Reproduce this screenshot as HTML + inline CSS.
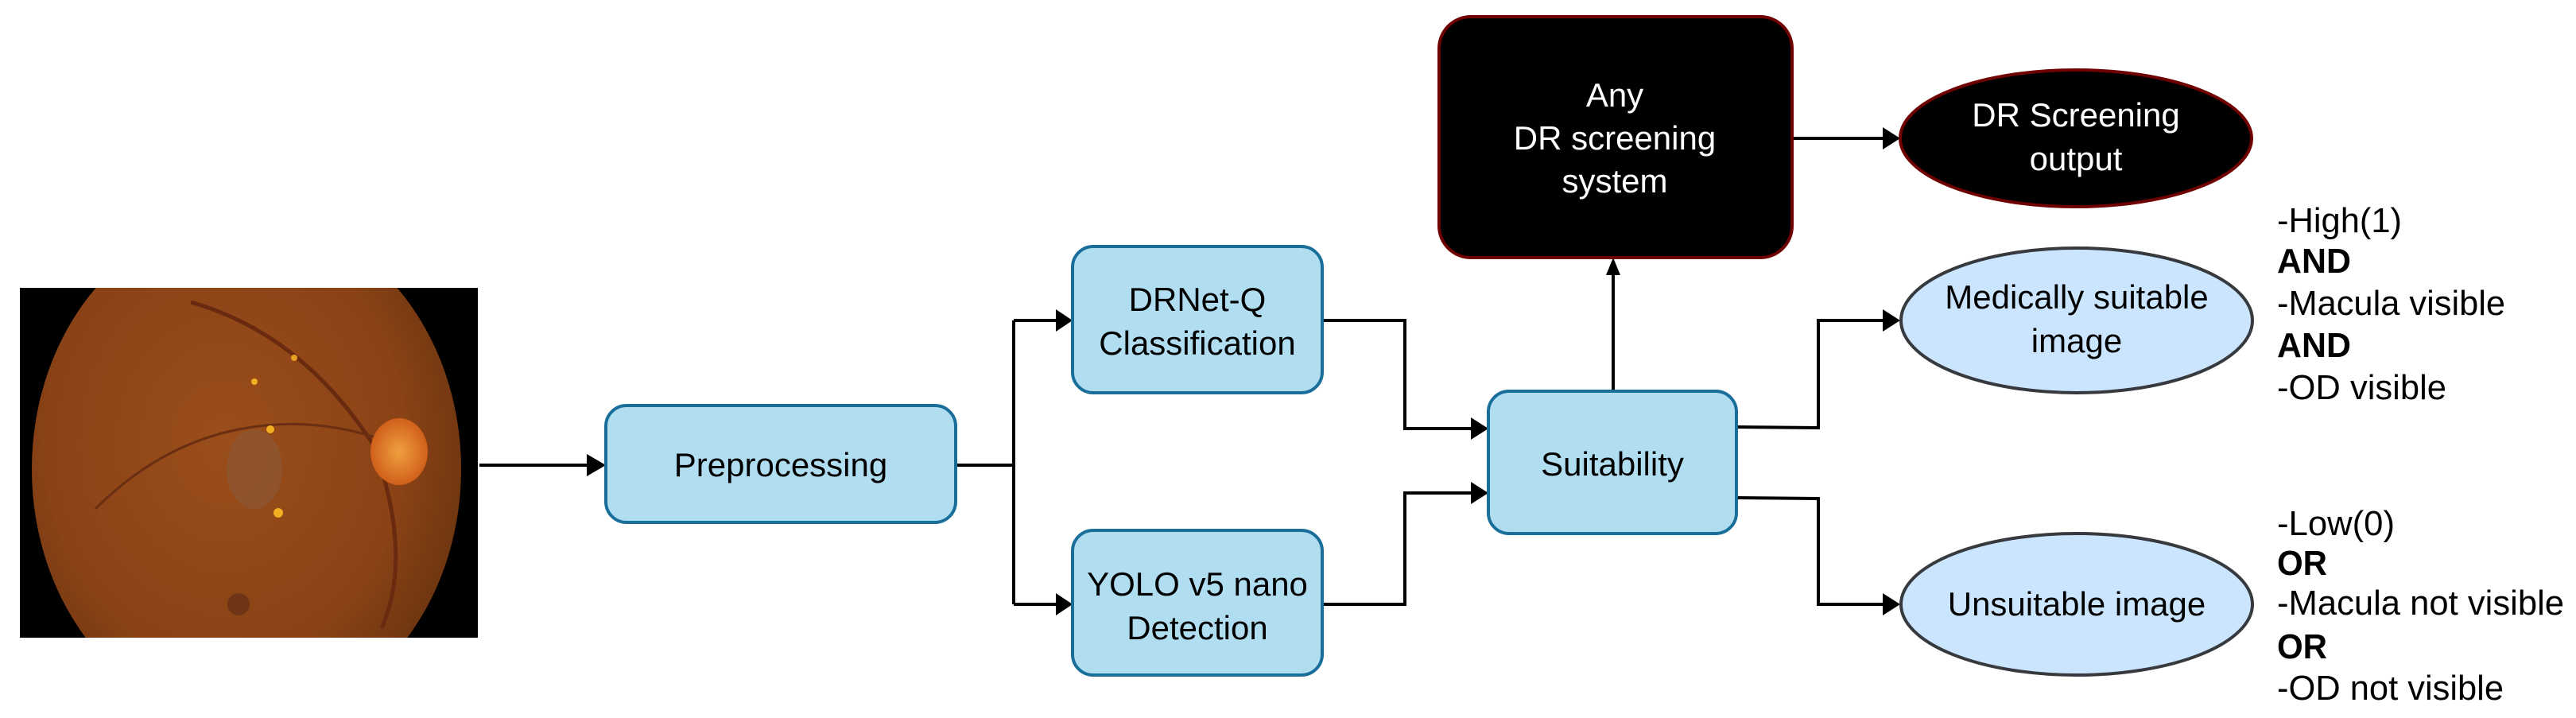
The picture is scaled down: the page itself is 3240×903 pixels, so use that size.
<!DOCTYPE html>
<html><head><meta charset="utf-8"><style>
html,body{margin:0;padding:0;background:#fff;}
svg{display:block;}
text{font-family:"Liberation Sans",Arial,sans-serif;}
</style></head><body>
<svg width="3240" height="903" viewBox="0 0 3240 903" xmlns="http://www.w3.org/2000/svg">
<defs>
<radialGradient id="fg" cx="45%" cy="45%" r="60%">
<stop offset="0" stop-color="#9a4e1a"/><stop offset="0.7" stop-color="#8a4216"/><stop offset="1" stop-color="#6a3410"/>
</radialGradient>
<radialGradient id="od" cx="50%" cy="50%" r="50%">
<stop offset="0" stop-color="#f0a040"/><stop offset="1" stop-color="#d0601a"/>
</radialGradient>
<clipPath id="cp"><rect x="25" y="362" width="576" height="440"/></clipPath>
</defs>
<rect x="25" y="362" width="576" height="440" fill="#000"/>
<g clip-path="url(#cp)">
<ellipse cx="310" cy="590" rx="270" ry="320" fill="url(#fg)"/>
<path d="M240 380 Q 380 420 470 560 Q 520 700 480 790" stroke="#6a2a10" stroke-width="5" fill="none"/>
<path d="M500 560 Q 400 520 300 540 Q 200 560 120 640" stroke="#6a2e12" stroke-width="3" fill="none"/>
<ellipse cx="320" cy="590" rx="35" ry="50" fill="#8a5a3a" opacity="0.6"/>
<circle cx="340" cy="540" r="5" fill="#f0b020"/><circle cx="350" cy="645" r="6" fill="#f0b020"/>
<circle cx="320" cy="480" r="4" fill="#f0b020"/><circle cx="370" cy="450" r="4" fill="#e8a020"/>
<circle cx="300" cy="760" r="14" fill="#5a2a14" opacity="0.6"/>
</g>
<ellipse cx="502" cy="568" rx="36" ry="42" fill="url(#od)"/>
<g stroke="#000" stroke-width="4" fill="none">
<line x1="603" y1="585" x2="740" y2="585"/>
<polyline points="1202,585 1275,585"/>
<polyline points="1275,403 1275,760"/>
<line x1="1275" y1="403" x2="1330" y2="403"/>
<line x1="1275" y1="760" x2="1330" y2="760"/>
<polyline points="1663,403 1767,403 1767,539 1852,539"/>
<polyline points="1663,760 1767,760 1767,620 1852,620"/>
<line x1="2029" y1="492" x2="2029" y2="345"/>
<line x1="2254" y1="174" x2="2370" y2="174"/>
<polyline points="2184,537 2287,538 2287,403 2370,403"/>
<polyline points="2184,626 2287,627 2287,760 2370,760"/>
</g>
<g fill="#000">
<polygon points="738,571 762,585 738,599"/>
<polygon points="1328,389 1349,403 1328,417"/>
<polygon points="1328,746 1349,760 1328,774"/>
<polygon points="1850,525 1872,539 1850,553"/>
<polygon points="1850,606 1872,620 1850,634"/>
<polygon points="2020,346 2029,324 2038,346"/>
<polygon points="2368,160 2390,174 2368,188"/>
<polygon points="2368,389 2390,403 2368,417"/>
<polygon points="2368,746 2390,760 2368,774"/>
</g>
<g fill="#b1ddf0" stroke="#1a6f9a" stroke-width="4">
<rect x="762" y="510" width="440" height="147" rx="26"/>
<rect x="1349" y="310" width="314" height="184" rx="26"/>
<rect x="1349" y="667" width="314" height="182" rx="26"/>
<rect x="1872" y="492" width="312" height="179" rx="26"/>
</g>
<rect x="1810" y="21" width="444" height="303" rx="40" fill="#000" stroke="#6f0000" stroke-width="4"/>
<ellipse cx="2611" cy="174" rx="221" ry="86" fill="#000" stroke="#6f0000" stroke-width="4"/>
<g fill="#cce5ff" stroke="#36393d" stroke-width="4">
<ellipse cx="2612" cy="403" rx="221" ry="91"/>
<ellipse cx="2612" cy="760" rx="221" ry="89"/>
</g>
<g font-size="42" text-anchor="middle" fill="#000">
<text x="982" y="599">Preprocessing</text>
<text x="1506" y="391">DRNet-Q</text>
<text x="1506" y="446">Classification</text>
<text x="1506" y="749">YOLO v5 nano</text>
<text x="1506" y="804">Detection</text>
<text x="2028" y="598">Suitability</text>
<text x="2612" y="388">Medically suitable</text>
<text x="2612" y="443">image</text>
<text x="2612" y="774">Unsuitable image</text>
</g>
<g font-size="42" text-anchor="middle" fill="#fff">
<text x="2031" y="134">Any</text>
<text x="2031" y="188">DR screening</text>
<text x="2031" y="242">system</text>
<text x="2611" y="159">DR Screening</text>
<text x="2611" y="214">output</text>
</g>
<g font-size="44" fill="#000" lengthAdjust="spacingAndGlyphs">
<text x="2864" y="292" textLength="157" lengthAdjust="spacingAndGlyphs">-High(1)</text>
<text x="2864" y="343" font-weight="bold" textLength="93" lengthAdjust="spacingAndGlyphs">AND</text>
<text x="2864" y="396" textLength="287" lengthAdjust="spacingAndGlyphs">-Macula visible</text>
<text x="2864" y="449" font-weight="bold" textLength="93" lengthAdjust="spacingAndGlyphs">AND</text>
<text x="2864" y="502" textLength="213" lengthAdjust="spacingAndGlyphs">-OD visible</text>
<text x="2864" y="673" textLength="148" lengthAdjust="spacingAndGlyphs">-Low(0)</text>
<text x="2864" y="723" font-weight="bold" textLength="63" lengthAdjust="spacingAndGlyphs">OR</text>
<text x="2864" y="773" textLength="361" lengthAdjust="spacingAndGlyphs">-Macula not visible</text>
<text x="2864" y="828" font-weight="bold" textLength="63" lengthAdjust="spacingAndGlyphs">OR</text>
<text x="2864" y="880" textLength="285" lengthAdjust="spacingAndGlyphs">-OD not visible</text>
</g>
</svg>
</body></html>
